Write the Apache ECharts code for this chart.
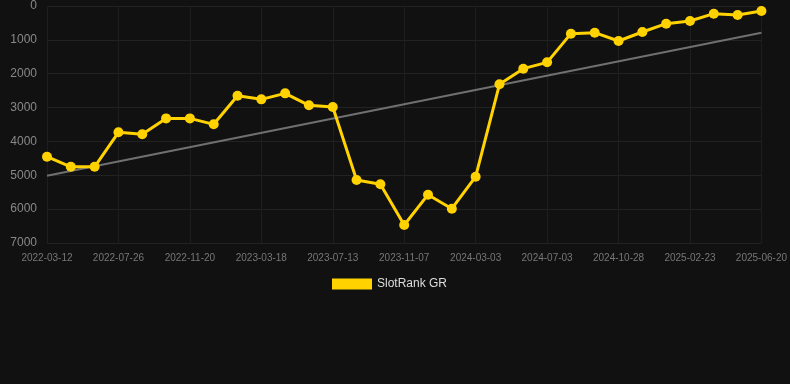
<!DOCTYPE html>
<html>
<head>
<meta charset="utf-8">
<script src="https://cdn.jsdelivr.net/npm/echarts@6/dist/echarts.min.js"></script>
<style>
html,body{margin:0;padding:0;background:#111111;}
#chart{width:790px;height:384px;}
</style>
</head>
<body>
<div id="chart"></div>
<script>
const categories = [
  "2022-03-12","2022-04-26","2022-06-10","2022-07-26","2022-09-03","2022-10-12",
  "2022-11-20","2022-12-29","2023-02-06","2023-03-18","2023-04-26","2023-06-04",
  "2023-07-13","2023-08-21","2023-09-29","2023-11-07","2023-12-16","2024-01-24",
  "2024-03-03","2024-04-13","2024-05-23","2024-07-03","2024-08-11","2024-09-19",
  "2024-10-28","2024-12-06","2025-01-14","2025-02-23","2025-04-03","2025-05-12",
  "2025-06-20"
];
const rankValues = [
  4450, 4750, 4750, 3730, 3790, 3320,
  3320, 3495, 2650, 2757, 2580, 2934,
  2983, 5140, 5267, 6468, 5573, 5987,
  5041, 2313, 1851, 1664, 817, 788,
  1034, 768, 522, 443, 227, 266,
  148
];
const trendStart = 5012;
const trendEnd = 788;
const yTicks = { min: 0, max: 7000, interval: 1000 };

const chart = echarts.init(document.getElementById('chart'), null, {renderer: 'canvas'});
chart.setOption({
  backgroundColor: '#111111',
  animation: false,
  grid: { left: 47, right: 28, top: 6, bottom: 141, containLabel: false },
  legend: {
    data: ['SlotRank GR'],
    left: 327,
    top: 273,
    itemWidth: 40,
    itemHeight: 11,
    itemGap: 10,
    textStyle: { color: '#dddddd', fontSize: 12, fontFamily: 'Arial, Liberation Sans, sans-serif' },
    icon: 'rect'
  },
  xAxis: {
    type: 'category',
    data: categories,
    boundaryGap: false,
    axisLine: { show: false },
    axisTick: { show: false },
    axisLabel: { interval: 2, color: '#777777', fontSize: 10, margin: 10, fontFamily: 'Arial, Liberation Sans, sans-serif' },
    splitLine: { show: true, interval: 2, lineStyle: { color: '#1e1e1e', width: 1 } }
  },
  yAxis: {
    type: 'value',
    inverse: true,
    min: yTicks.min,
    max: yTicks.max,
    interval: yTicks.interval,
    axisLine: { show: false },
    axisTick: { show: false },
    axisLabel: { color: '#888888', fontSize: 12, margin: 10, fontFamily: 'Arial, Liberation Sans, sans-serif',
      formatter: function (v) { return String(v); } },
    splitLine: { show: true, lineStyle: { color: '#222222', width: 1 } }
  },
  series: [
    {
      name: 'Trend',
      type: 'line',
      data: [[categories[0], trendStart], [categories[categories.length - 1], trendEnd]],
      symbol: 'none',
      lineStyle: { color: '#707070', width: 2 },
      silent: true,
      z: 1
    },
    {
      name: 'SlotRank GR',
      type: 'line',
      data: rankValues,
      symbol: 'circle',
      symbolSize: 10,
      itemStyle: { color: '#FFD200' },
      lineStyle: { color: '#FFD200', width: 3 },
      z: 2
    }
  ]
});
</script>
</body>
</html>
